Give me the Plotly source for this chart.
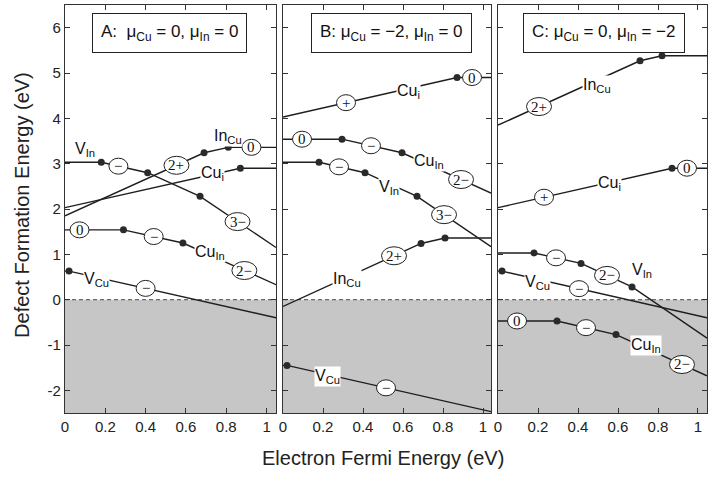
import numpy as np
import plotly.graph_objects as go

# ---------------- data (eV) ----------------
# Panel A: mu_Cu = 0, mu_In = 0
A_VIn_x = [0.0, 0.18, 0.41, 0.67, 1.047]
A_VIn_y = [3.03, 3.03, 2.80, 2.28, 1.15]
A_InCu_x = [0.0, 0.69, 0.81, 1.047]
A_InCu_y = [1.85, 3.24, 3.36, 3.36]
A_Cui_x = [0.0, 0.87, 1.047]
A_Cui_y = [2.03, 2.90, 2.90]
A_CuIn_x = [0.0, 0.29, 0.585, 1.047]
A_CuIn_y = [1.54, 1.54, 1.25, 0.33]
A_VCu_x = [0.0, 0.02, 1.047]
A_VCu_y = [0.63, 0.63, -0.40]

# Panel B: mu_Cu = -2, mu_In = 0
B_Cui_x = [0.0, 0.87, 1.04]
B_Cui_y = [4.03, 4.90, 4.90]
B_CuIn_x = [0.0, 0.295, 0.595, 1.04]
B_CuIn_y = [3.54, 3.54, 3.24, 2.35]
B_VIn_x = [0.0, 0.18, 0.41, 0.67, 1.04]
B_VIn_y = [3.03, 3.03, 2.80, 2.28, 1.17]
B_InCu_x = [0.0, 0.69, 0.81, 1.04]
B_InCu_y = [-0.15, 1.24, 1.36, 1.36]
B_VCu_x = [0.0, 0.02, 1.04]
B_VCu_y = [-1.45, -1.45, -2.47]

# Panel C: mu_Cu = 0, mu_In = -2
C_InCu_x = [0.0, 0.71, 0.82, 1.045]
C_InCu_y = [3.85, 5.27, 5.38, 5.38]
C_Cui_x = [0.0, 0.87, 1.045]
C_Cui_y = [2.03, 2.90, 2.90]
C_VIn_x = [0.0, 0.18, 0.415, 0.67, 1.045]
C_VIn_y = [1.03, 1.03, 0.80, 0.28, -0.85]
C_VCu_x = [0.0, 0.02, 1.045]
C_VCu_y = [0.63, 0.63, -0.40]
C_CuIn_x = [0.0, 0.295, 0.59, 1.045]
C_CuIn_y = [-0.47, -0.47, -0.77, -1.68]

# charge-state labels: (defect, Fermi energy, text)
A_charges = [("VIn", 0.265, "−"), ("VIn", 0.856, "3−"), ("InCu", 0.553, "2+"),
             ("InCu", 0.925, "0"), ("CuIn", 0.072, "0"), ("CuIn", 0.44, "−"),
             ("CuIn", 0.89, "2−"), ("VCu", 0.40, "−")]
B_charges = [("Cui", 0.315, "+"), ("Cui", 0.945, "0"), ("CuIn", 0.095, "0"),
             ("CuIn", 0.44, "−"), ("CuIn", 0.89, "2−"), ("VIn", 0.28, "−"),
             ("VIn", 0.805, "3−"), ("InCu", 0.555, "2+"), ("VCu", 0.515, "−")]
C_charges = [("InCu", 0.205, "2+"), ("Cui", 0.23, "+"), ("Cui", 0.945, "0"),
             ("VIn", 0.29, "−"), ("VIn", 0.545, "2−"), ("VCu", 0.405, "−"),
             ("CuIn", 0.095, "0"), ("CuIn", 0.44, "−"), ("CuIn", 0.92, "2−")]

# defect name labels: (x, y, text)
A_names = [(0.10, 3.31, "V<sub>In</sub>"), (0.81, 3.60, "In<sub>Cu</sub>"),
           (0.73, 2.78, "Cu<sub>i</sub>"), (0.72, 1.04, "Cu<sub>In</sub>"),
           (0.155, 0.44, "V<sub>Cu</sub>")]
B_names = [(0.625, 4.60, "Cu<sub>i</sub>"), (0.73, 3.04, "Cu<sub>In</sub>"),
           (0.53, 2.48, "V<sub>In</sub>"), (0.32, 0.44, "In<sub>Cu</sub>"),
           (0.22, -1.70, "V<sub>Cu</sub>")]
C_names = [(0.495, 4.73, "In<sub>Cu</sub>"), (0.555, 2.56, "Cu<sub>i</sub>"),
           (0.72, 0.64, "V<sub>In</sub>"), (0.195, 0.37, "V<sub>Cu</sub>"),
           (0.74, -1.02, "Cu<sub>In</sub>")]

panel_titles = ["A:  μ<sub>Cu</sub> = 0, μ<sub>In</sub> = 0",
                "B: μ<sub>Cu</sub> = −2, μ<sub>In</sub> = 0",
                "C: μ<sub>Cu</sub> = 0, μ<sub>In</sub> = −2"]
title_x = [0.52, 0.54, 0.53]
title_y = 5.88

x_tickvals = [0, 0.2, 0.4, 0.6, 0.8, 1]
x_ticktext = ["0", "0.2", "0.4", "0.6", "0.8", "1"]
y_tickvals = [-2, -1, 0, 1, 2, 3, 4, 5, 6]
y_ticktext = ["-2", "-1", "0", "1", "2", "3", "4", "5", "6"]

# ---------------- build ----------------
panels = [
    dict(lines={"VIn": (A_VIn_x, A_VIn_y), "InCu": (A_InCu_x, A_InCu_y),
                "Cui": (A_Cui_x, A_Cui_y), "CuIn": (A_CuIn_x, A_CuIn_y),
                "VCu": (A_VCu_x, A_VCu_y)},
         charges=A_charges, names=A_names),
    dict(lines={"Cui": (B_Cui_x, B_Cui_y), "CuIn": (B_CuIn_x, B_CuIn_y),
                "VIn": (B_VIn_x, B_VIn_y), "InCu": (B_InCu_x, B_InCu_y),
                "VCu": (B_VCu_x, B_VCu_y)},
         charges=B_charges, names=B_names),
    dict(lines={"InCu": (C_InCu_x, C_InCu_y), "Cui": (C_Cui_x, C_Cui_y),
                "VIn": (C_VIn_x, C_VIn_y), "VCu": (C_VCu_x, C_VCu_y),
                "CuIn": (C_CuIn_x, C_CuIn_y)},
         charges=C_charges, names=C_names),
]

domains = [[0.0, 0.3287], [0.3396, 0.6636], [0.6745, 1.0]]
xranges = [[0, 1.047], [0, 1.04], [0, 1.045]]
yrange = [-2.5, 6.5]

LINE = "#1e1e1e"
FRAME = "#333333"
SANS = "Liberation Sans, Arial, Helvetica, sans-serif"
SERIF = "Liberation Serif, Times New Roman, serif"

fig = go.Figure()
shapes = []
annotations = []

for i, p in enumerate(panels):
    sfx = "" if i == 0 else str(i + 1)
    xr, yr = "x" + sfx, "y" + sfx
    # shaded negative-energy region and dashed zero line
    shapes.append(dict(type="rect", xref=xr + " domain", yref=yr, x0=0, x1=1,
                       y0=yrange[0], y1=0, fillcolor="#c6c6c6",
                       line=dict(width=0), layer="below"))
    shapes.append(dict(type="line", xref=xr + " domain", yref=yr, x0=0, x1=1,
                       y0=0, y1=0, line=dict(color="#6a6a6a", width=1.3, dash="4px,3px"),
                       layer="below"))
    for key, (lx, ly) in p["lines"].items():
        fig.add_trace(go.Scatter(x=lx, y=ly, mode="lines", xaxis=xr, yaxis=yr,
                                 line=dict(color=LINE, width=1.4), showlegend=False,
                                 hoverinfo="skip"))
        fig.add_trace(go.Scatter(x=lx[1:-1], y=ly[1:-1], mode="markers", xaxis=xr, yaxis=yr,
                                 marker=dict(color="#2a2a2a", size=7), showlegend=False,
                                 hoverinfo="skip"))
    for key, ex, txt in p["charges"]:
        lx, ly = p["lines"][key]
        ey = float(np.interp(ex, lx, ly))
        w = 19 if len(txt) == 1 else 25
        h = 16 if len(txt) == 1 else 18
        shapes.append(dict(type="circle", xref=xr, yref=yr, xsizemode="pixel",
                           ysizemode="pixel", xanchor=ex, yanchor=ey,
                           x0=-w / 2, x1=w / 2, y0=-h / 2, y1=h / 2,
                           fillcolor="white", line=dict(color="#222", width=1),
                           layer="above"))
        annotations.append(dict(xref=xr, yref=yr, x=ex, y=ey, text=txt, showarrow=False,
                                font=dict(family=SERIF, size=15, color="#111"),
                                xanchor="center", yanchor="middle"))
    for nx, ny, txt in p["names"]:
        annotations.append(dict(xref=xr, yref=yr, x=nx, y=ny, text=txt, showarrow=False,
                                font=dict(family=SANS, size=16, color="#111"),
                                bgcolor="white", borderpad=0,
                                xanchor="center", yanchor="middle"))
    annotations.append(dict(xref=xr, yref=yr, x=title_x[i], y=title_y, text=panel_titles[i],
                            showarrow=False, font=dict(family=SANS, size=17, color="#111"),
                            bgcolor="white", bordercolor="#222", borderwidth=1, borderpad=8,
                            xanchor="center", yanchor="middle"))

axis_common = dict(showline=True, linecolor=FRAME, linewidth=1.4, mirror="ticks",
                   ticks="inside", ticklen=5, tickcolor=FRAME, tickwidth=1.2,
                   showgrid=False, zeroline=False,
                   tickfont=dict(family=SANS, size=15, color="#222"))
layout = dict(width=708, height=482, plot_bgcolor="white", paper_bgcolor="white",
              margin=dict(l=65, r=1, t=5, b=69), showlegend=False)
for i in range(3):
    sfx = "" if i == 0 else str(i + 1)
    layout["xaxis" + sfx] = dict(domain=domains[i], range=xranges[i], anchor="y" + sfx,
                                 tickvals=x_tickvals, ticktext=x_ticktext, **axis_common)
    layout["yaxis" + sfx] = dict(domain=[0, 1], range=yrange, anchor="x" + sfx,
                                 tickvals=y_tickvals, ticktext=y_ticktext,
                                 showticklabels=(i == 0), **axis_common)

annotations.append(dict(xref="paper", yref="paper", x=-0.067, y=0.51,
                        text="Defect Formation Energy (eV)", textangle=-90, showarrow=False,
                        font=dict(family=SANS, size=20, color="#222"),
                        xanchor="center", yanchor="middle"))
annotations.append(dict(xref="paper", yref="paper", x=0.495, y=-0.11,
                        text="Electron Fermi Energy (eV)", showarrow=False,
                        font=dict(family=SANS, size=20, color="#222"),
                        xanchor="center", yanchor="middle"))

fig.update_layout(**layout)
fig.update_layout(shapes=shapes, annotations=annotations)
fig.write_html("out.html", config={"displayModeBar": False},
               post_script="document.body.style.margin='0';document.body.style.overflow='hidden';")
